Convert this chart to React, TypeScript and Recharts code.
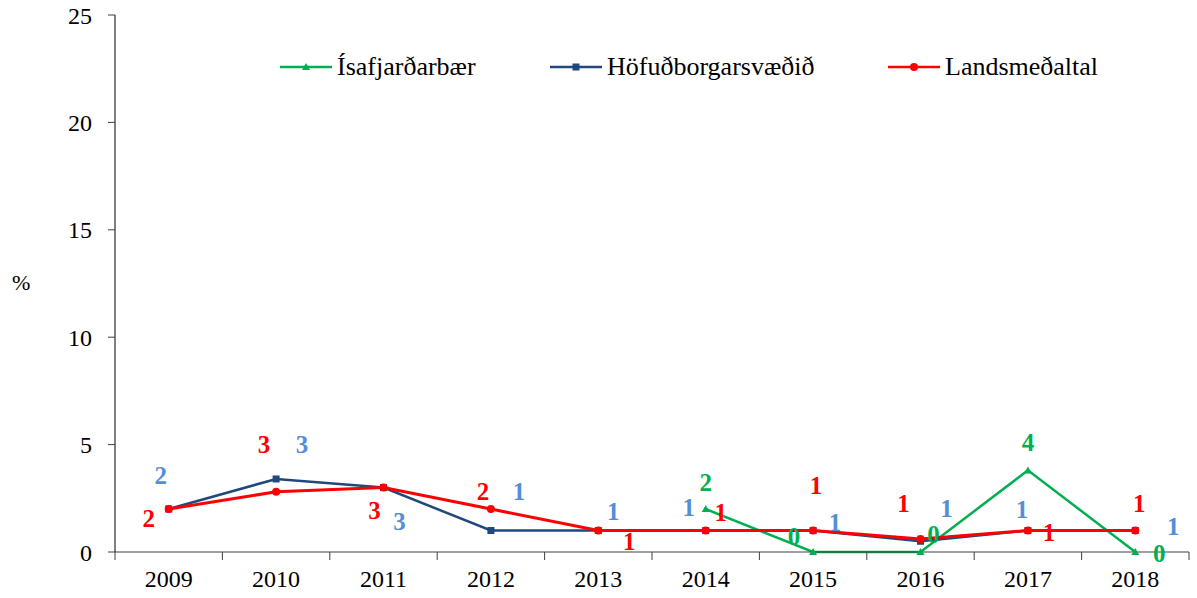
import React from "react";
import { LineChart, Line, XAxis, YAxis, LabelList } from "recharts";

const years = ["2009", "2010", "2011", "2012", "2013", "2014", "2015", "2016", "2017", "2018"];
const isafjardarbaer = [null, null, null, null, null, 2.0, 0, 0, 3.8, 0];
const hofudborgarsvaedid = [2.0, 3.4, 3.0, 1.0, 1.0, 1.0, 1.0, 0.5, 1.0, 1.0];
const landsmedaltal = [2.0, 2.8, 3.0, 2.0, 1.0, 1.0, 1.0, 0.6, 1.0, 1.0];
const yTicks = [0, 5, 10, 15, 20, 25];

const GREEN = "#00B050";
const NAVY = "#1F497D";
const LABEL_BLUE = "#558ED5";
const RED = "#FF0000";
const FONT = "Liberation Serif";

// label placement relative to each point, [dx, dy]
const greenOffsets = [[0, 0], [0, 0], [0, 0], [0, 0], [0, 0], [0, -27], [-19, -16], [13, -18], [0, -28], [24, 1]];
const blueOffsets = [[-8, -34], [26, -35], [16, 34], [28, -39], [15, -19], [-17, -23], [22, -8], [26, -33], [-6, -21], [38, -4]];
const redOffsets = [[-20, 9], [-12, -48], [-9, 23], [-8, -18], [31, 11], [15, -18], [3, -45], [-17, -36], [21, 2], [4, -27]];

const data = years.map((y, i) => ({
  year: y,
  isa: isafjardarbaer[i],
  hofud: hofudborgarsvaedid[i],
  lands: landsmedaltal[i],
}));

const W = 1197;
const H = 598;
const M = { top: 15, right: 8, left: 55, bottom: 6 };
const Y_W = 60;
const BAND = (W - M.left - M.right - Y_W) / years.length;

const makeLabel = (color, offsets) => (props) => {
  const { x, y, value, index } = props;
  if (value == null || x == null || y == null) return null;
  const [dx, dy] = offsets[index] || [0, 0];
  return (
    <text
      x={x + dx}
      y={y + dy}
      dy="0.35em"
      textAnchor="middle"
      fill={color}
      fontFamily={FONT}
      fontWeight="bold"
      fontSize={25}
    >
      {Math.round(value)}
    </text>
  );
};

const SquareDot = (props) => {
  const { cx, cy, payload } = props;
  if (cx == null || cy == null || payload.hofud == null) return null;
  return <rect x={cx - 3.5} y={cy - 3.5} width={7} height={7} fill={NAVY} />;
};

const CircleDot = (props) => {
  const { cx, cy, payload } = props;
  if (cx == null || cy == null || payload.lands == null) return null;
  return <circle cx={cx} cy={cy} r={4} fill={RED} />;
};

const TriangleDot = (props) => {
  const { cx, cy, payload } = props;
  if (cx == null || cy == null || payload.isa == null) return null;
  return <path d={`M${cx},${cy - 4} L${cx + 4},${cy + 3} L${cx - 4},${cy + 3} Z`} fill={GREEN} />;
};

const XTick = (props) => {
  const { x, y, payload, index } = props;
  const axisY = y - 8;
  const isLast = index === years.length - 1;
  return (
    <g>
      <line x1={x - BAND / 2} y1={axisY} x2={x - BAND / 2} y2={axisY + 8} stroke="#404040" strokeWidth={1} />
      {isLast && (
        <line x1={x + BAND / 2} y1={axisY} x2={x + BAND / 2} y2={axisY + 8} stroke="#404040" strokeWidth={1} />
      )}
      <text x={x} y={axisY + 35} textAnchor="middle" fill="#000" fontFamily={FONT} fontSize={24}>
        {payload.value}
      </text>
    </g>
  );
};

const legendItems = [
  { name: "Ísafjarðarbær", color: GREEN, marker: "triangle", left: 280 },
  { name: "Höfuðborgarsvæðið", color: NAVY, marker: "square", left: 550 },
  { name: "Landsmeðaltal", color: RED, marker: "circle", left: 888 },
];

const ChartLegend = () => (
  <div style={{ position: "absolute", left: 0, top: 52, width: W, height: 34 }}>
    {legendItems.map((item) => (
      <div
        key={item.name}
        style={{
          position: "absolute",
          left: item.left,
          top: 0,
          display: "flex",
          alignItems: "center",
          fontFamily: FONT,
          fontSize: 26,
          color: "#000",
          whiteSpace: "nowrap",
        }}
      >
        <svg width={52} height={12} style={{ marginRight: 5 }}>
          <line x1={0} y1={6} x2={52} y2={6} stroke={item.color} strokeWidth={2.5} />
          {item.marker === "triangle" && <path d="M26,2 L30,9 L22,9 Z" fill={item.color} />}
          {item.marker === "square" && <rect x={22.5} y={2.5} width={7} height={7} fill={item.color} />}
          {item.marker === "circle" && <circle cx={26} cy={6} r={4} fill={item.color} />}
        </svg>
        <span>{item.name}</span>
      </div>
    ))}
  </div>
);

export default function App() {
  return (
    <div style={{ position: "fixed", left: 0, top: 0, width: W, height: H, background: "#fff" }}>
      <LineChart width={W} height={H} data={data} margin={M}>
        <XAxis
          dataKey="year"
          height={40}
          padding={{ left: BAND / 2, right: BAND / 2 }}
          axisLine={{ stroke: "#404040" }}
          tickLine={false}
          tickSize={8}
          tickMargin={0}
          tick={<XTick />}
          interval={0}
        />
        <YAxis
          width={Y_W}
          domain={[0, 25]}
          ticks={yTicks}
          interval={0}
          axisLine={{ stroke: "#000" }}
          tickLine={{ stroke: "#404040" }}
          tickSize={7}
          tickMargin={16}
          tick={{ fill: "#000", fontFamily: FONT, fontSize: 24 }}
        />
        <Line
          dataKey="isa"
          stroke={GREEN}
          strokeWidth={2.5}
          dot={<TriangleDot />}
          activeDot={false}
          isAnimationActive={false}
        >
          <LabelList dataKey="isa" content={makeLabel(GREEN, greenOffsets)} />
        </Line>
        <Line
          dataKey="hofud"
          stroke={NAVY}
          strokeWidth={2.5}
          dot={<SquareDot />}
          activeDot={false}
          isAnimationActive={false}
        >
          <LabelList dataKey="hofud" content={makeLabel(LABEL_BLUE, blueOffsets)} />
        </Line>
        <Line
          dataKey="lands"
          stroke={RED}
          strokeWidth={3}
          dot={<CircleDot />}
          activeDot={false}
          isAnimationActive={false}
        >
          <LabelList dataKey="lands" content={makeLabel(RED, redOffsets)} />
        </Line>
      </LineChart>
      <ChartLegend />
      <div
        style={{
          position: "absolute",
          left: 12,
          top: 270,
          fontFamily: FONT,
          fontSize: 22,
          color: "#000",
        }}
      >
        %
      </div>
    </div>
  );
}
